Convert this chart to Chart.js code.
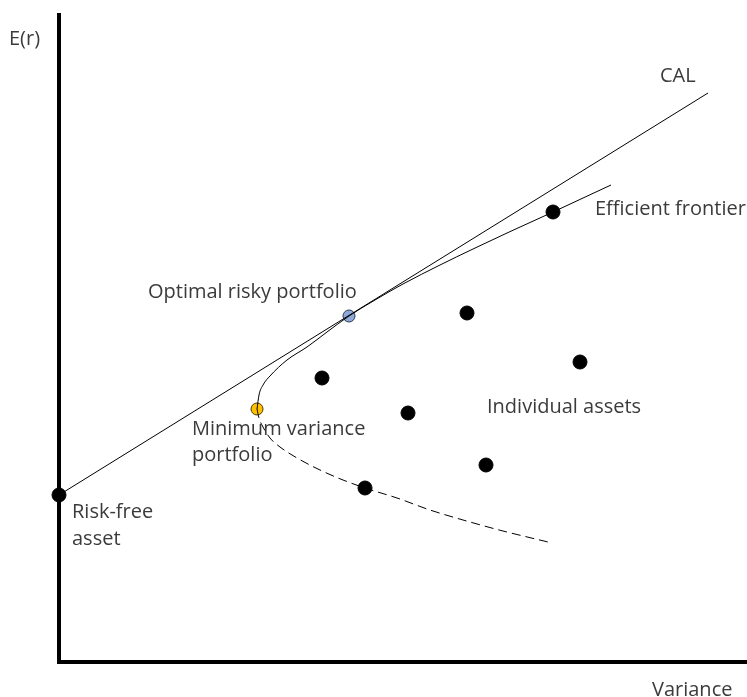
<!DOCTYPE html>
<html>
<head>
<meta charset="utf-8">
<script src="https://cdn.jsdelivr.net/npm/chart.js@4/dist/chart.umd.min.js"></script>
<style>
  html, body { margin: 0; padding: 0; background: #fff; overflow: hidden; }
  #wrap { width: 747px; height: 697px; position: relative; }
  canvas { display: block; }
</style>
</head>
<body>
<div id="wrap"><canvas id="chart" width="747" height="697"></canvas></div>
<script>
// values (x = variance, y = expected return, arbitrary units)
const calX = [0, 649];
const calY = [167, 569];

// upper (efficient) branch of the frontier, from the minimum variance point
const frontierUpX = [198, 200, 204, 211, 228, 248, 268, 290, 316, 344, 381, 414, 448, 494, 552];
const frontierUpY = [253, 267, 277, 286, 302, 315, 330, 346, 362, 378, 397, 413, 429, 450, 477];

// lower (inefficient) branch, dashed
const frontierLowX = [198, 200, 204, 211, 221, 238, 261, 284, 306, 338, 371, 411, 444, 489];
const frontierLowY = [253, 244, 235, 224, 215, 204, 192, 182, 174, 164, 152, 140, 131, 120];

// individual assets
const assetX = [263, 349, 408, 521, 494, 427, 306];
const assetY = [284, 249, 349, 300, 450, 197, 174];

const riskFree = { x: 0, y: 167 };
const optimal = { x: 290, y: 346 };
const minVar = { x: 198, y: 253 };

const pts = (xs, ys) => xs.map((x, i) => ({ x, y: ys[i] }));

// text labels, drawn onto the canvas after the datasets
const FONT = '20px "Open Sans", "Noto Sans", sans-serif';
const labels = [
  { t: 'E(r)', x: 9, y: 45 },
  { t: 'Variance', x: 652, y: 696 },
  { t: 'CAL', x: 660, y: 82 },
  { t: 'Efficient frontier', x: 595, y: 215 },
  { t: 'Optimal risky portfolio', x: 148, y: 298 },
  { t: 'Minimum variance', x: 192, y: 435 },
  { t: 'portfolio', x: 192, y: 461 },
  { t: 'Risk-free', x: 72, y: 518 },
  { t: 'asset', x: 72, y: 545 },
  { t: 'Individual assets', x: 487, y: 413 }
];

const textPlugin = {
  id: 'textLabels',
  afterDraw(chart) {
    const ctx = chart.ctx;
    ctx.save();
    ctx.font = FONT;
    ctx.fillStyle = '#3b3b3b';
    ctx.textBaseline = 'alphabetic';
    labels.forEach(l => ctx.fillText(l.t, l.x, l.y));
    ctx.restore();
  }
};

const lineDs = (data, extra) => Object.assign({
  data,
  showLine: true,
  borderColor: '#000',
  borderWidth: 1,
  pointRadius: 0,
  pointHoverRadius: 0,
  cubicInterpolationMode: 'monotone',
  clip: false
}, extra);

const dotDs = (data, fill, stroke, r) => ({
  data,
  showLine: false,
  pointRadius: r,
  pointBackgroundColor: fill,
  pointBorderColor: stroke,
  pointBorderWidth: 1,
  clip: false
});

const axis = (max) => ({
  type: 'linear', min: 0, max,
  grid: { display: false, drawTicks: false, tickLength: 0 },
  ticks: { display: false },
  border: { display: true, color: '#000', width: 4 }
});

new Chart(document.getElementById('chart'), {
  type: 'scatter',
  data: {
    datasets: [
      lineDs(pts(calX, calY), { cubicInterpolationMode: 'default', tension: 0 }),
      lineDs(pts(frontierUpX, frontierUpY)),
      lineDs(pts(frontierLowX, frontierLowY), { borderDash: [9, 5] }),
      dotDs(pts(assetX, assetY), '#000', '#000', 7),
      dotDs([riskFree], '#000', '#000', 7),
      dotDs([optimal], '#8eaadb', '#2b3a55', 6),
      dotDs([minVar], '#ffc000', '#4a3b00', 6)
    ]
  },
  options: {
    responsive: false,
    animation: false,
    events: [],
    layout: { autoPadding: false, padding: { left: 59, top: 15, right: 0, bottom: 35 } },
    plugins: { legend: { display: false }, tooltip: { enabled: false } },
    scales: { x: axis(688), y: axis(647) }
  },
  plugins: [textPlugin]
});
</script>
</body>
</html>
